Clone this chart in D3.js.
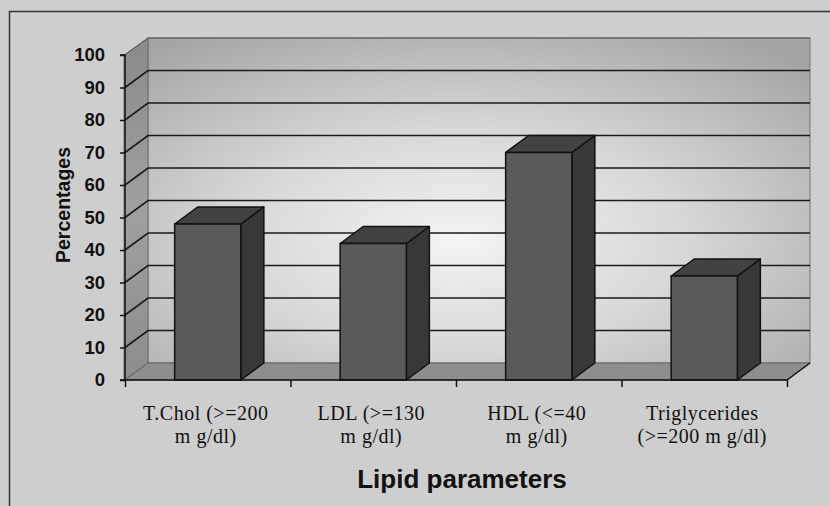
<!DOCTYPE html>
<html>
<head>
<meta charset="utf-8">
<script src="https://cdn.jsdelivr.net/npm/d3@7"></script>
<style>
  body { margin: 0; background: #cecece; }
  svg { display: block; }
</style>
</head>
<body>
<div id="chart"></div>
<script>
// data
var categories = ["T.Chol", "LDL", "HDL", "Triglycerides"];
var labelLines = [
    ["T.Chol (>=200", "m g/dl)"],
    ["LDL (>=130", "m g/dl)"],
    ["HDL (<=40", "m g/dl)"],
    ["Triglycerides", "(>=200 m g/dl)"]
];
var percentages = [48, 42, 70, 32];
var yTicks = [0, 10, 20, 30, 40, 50, 60, 70, 80, 90, 100];

var svgWidth = 830;
var svgHeight = 506;

// 3d depth offset of the walls
var dx = 23;
var dy = 17;

var svg = d3.select("#chart")
    .append("svg")
    .attr("width", svgWidth)
    .attr("height", svgHeight);

var defs = svg.append("defs");

var wallGrad = defs.append("radialGradient")
    .attr("id", "wallGrad")
    .attr("cx", "0.47").attr("cy", "0.62").attr("r", "0.75");
wallGrad.append("stop").attr("offset", "0%").attr("stop-color", "#f4f4f4");
wallGrad.append("stop").attr("offset", "45%").attr("stop-color", "#d8d8d8");
wallGrad.append("stop").attr("offset", "100%").attr("stop-color", "#a4a4a4");

var sideGrad = defs.append("linearGradient")
    .attr("id", "sideGrad")
    .attr("x1", "0").attr("y1", "0").attr("x2", "0").attr("y2", "1");
sideGrad.append("stop").attr("offset", "0%").attr("stop-color", "#8a8a8a");
sideGrad.append("stop").attr("offset", "50%").attr("stop-color", "#a0a0a0");
sideGrad.append("stop").attr("offset", "100%").attr("stop-color", "#8c8c8c");

// outer frame
svg.append("rect")
    .attr("x", 9.5).attr("y", 11.5)
    .attr("width", 840).attr("height", 520)
    .attr("fill", "#cecece")
    .attr("stroke", "#333")
    .attr("stroke-width", 1.5);

// scales
var xScale = d3.scaleBand()
    .domain(categories)
    .range([125, 787])
    .paddingInner(0.6)
    .paddingOuter(0.3);

var yScale = d3.scaleLinear()
    .domain([0, 100])
    .range([380, 55]);

var x0 = xScale.range()[0], x1 = xScale.range()[1];
var yTop = yScale(100), yBot = yScale(0);

// back wall
svg.append("rect")
    .attr("x", x0 + dx).attr("y", yTop - dy)
    .attr("width", x1 - x0).attr("height", yBot - yTop)
    .attr("fill", "url(#wallGrad)")
    .attr("stroke", "#777")
    .attr("stroke-width", 1);

// side wall
svg.append("path")
    .attr("d", `M${x0 - 1},${yTop} L${x0 + dx},${yTop - dy} L${x0 + dx},${yBot - dy} L${x0 - 1},${yBot} Z`)
    .attr("fill", "url(#sideGrad)")
    .attr("stroke", "#666")
    .attr("stroke-width", 0.8);

// floor
svg.append("path")
    .attr("d", `M${x0},${yBot} L${x0 + dx},${yBot - dy} L${x1 + dx},${yBot - dy} L${x1},${yBot} Z`)
    .attr("fill", "#8e8e8e")
    .attr("stroke", "#555")
    .attr("stroke-width", 0.8);

// gridlines on side + back wall
var grid = svg.append("g");
yTicks.filter(d => d > 0).forEach(function(t) {
    var y = yScale(t);
    grid.append("path")
        .attr("d", `M${x0},${y} L${x0 + dx},${y - dy} L${x1 + dx},${y - dy}`)
        .attr("fill", "none")
        .attr("stroke", t === 100 ? "#555" : "#1a1a1a")
        .attr("stroke-width", t === 100 ? 1 : 1.6);
});

// bars
var bars = svg.append("g")
    .selectAll("g")
    .data(categories)
    .enter()
    .append("g");

var bw = xScale.bandwidth();

bars.append("path")
    .attr("d", function(d, i) {
        var bx = xScale(d), by = yScale(percentages[i]);
        return `M${bx + bw},${by} L${bx + bw + dx},${by - dy} L${bx + bw + dx},${yBot - dy} L${bx + bw},${yBot} Z`;
    })
    .attr("fill", "#383838")
    .attr("stroke", "#111")
    .attr("stroke-width", 1.5)
    .attr("stroke-linejoin", "round");

bars.append("path")
    .attr("d", function(d, i) {
        var bx = xScale(d), by = yScale(percentages[i]);
        return `M${bx},${by} L${bx + dx},${by - dy} L${bx + bw + dx},${by - dy} L${bx + bw},${by} Z`;
    })
    .attr("fill", "#424242")
    .attr("stroke", "#111")
    .attr("stroke-width", 1.5)
    .attr("stroke-linejoin", "round");

bars.append("rect")
    .attr("x", d => xScale(d))
    .attr("y", (d, i) => yScale(percentages[i]))
    .attr("width", bw)
    .attr("height", (d, i) => yBot - yScale(percentages[i]))
    .attr("fill", "#5a5a5a")
    .attr("stroke", "#111")
    .attr("stroke-width", 1.5);

// axes
var leftAxis = d3.axisLeft(yScale)
    .tickValues(yTicks)
    .tickSize(5)
    .tickPadding(15)
    .tickFormat(d3.format("d"));

var yAxis = svg.append("g")
    .attr("transform", `translate(${x0}, 0)`)
    .call(leftAxis);

yAxis.select(".domain")
    .attr("stroke", "#111")
    .attr("stroke-width", 1.5)
    .attr("d", `M-5,${yTop}H0V${yBot}H-5`);
yAxis.selectAll(".tick line").attr("stroke", "#111").attr("stroke-width", 1.5);
yAxis.selectAll(".tick text")
    .attr("font-family", "'Liberation Sans', Arial, sans-serif")
    .attr("font-weight", "bold")
    .attr("font-size", 18.5)
    .attr("fill", "#111");

var tickScale = d3.scalePoint().domain(d3.range(categories.length + 1)).range([x0, x1]);
var bottomAxis = d3.axisBottom(tickScale).tickSize(7).tickFormat("");

var xAxis = svg.append("g")
    .attr("transform", `translate(0, ${yBot})`)
    .call(bottomAxis);
xAxis.select(".domain").attr("stroke", "#111").attr("stroke-width", 1.5)
    .attr("d", `M${x0},0H${x1}`);
xAxis.selectAll(".tick line").attr("stroke", "#111").attr("stroke-width", 1.5);

// floor right edge
svg.append("line")
    .attr("x1", x1).attr("y1", yBot)
    .attr("x2", x1 + dx).attr("y2", yBot - dy)
    .attr("stroke", "#111")
    .attr("stroke-width", 1.5);

// category labels
var labels = svg.append("g")
    .selectAll("text")
    .data(categories)
    .enter()
    .append("text")
    .attr("text-anchor", "middle")
    .attr("font-family", "'Liberation Serif', 'Times New Roman', serif")
    .attr("font-size", 20)
    .attr("letter-spacing", 0.5)
    .attr("fill", "#111");

labels.each(function(d, i) {
    var cx = xScale(d) + bw / 2 - 2;
    d3.select(this).selectAll("tspan")
        .data(labelLines[i])
        .enter()
        .append("tspan")
        .attr("x", cx)
        .attr("y", (t, j) => 420 + j * 23)
        .text(t => t);
});

// axis titles
svg.append("text")
    .attr("transform", "translate(70, 205) rotate(-90)")
    .attr("text-anchor", "middle")
    .attr("font-family", "'Liberation Sans', Arial, sans-serif")
    .attr("font-weight", "bold")
    .attr("font-size", 19.5)
    .attr("fill", "#111")
    .text("Percentages");

svg.append("text")
    .attr("x", 462)
    .attr("y", 488)
    .attr("text-anchor", "middle")
    .attr("font-family", "'Liberation Sans', Arial, sans-serif")
    .attr("font-weight", "bold")
    .attr("font-size", 26)
    .attr("fill", "#111")
    .text("Lipid parameters");
</script>
</body>
</html>
